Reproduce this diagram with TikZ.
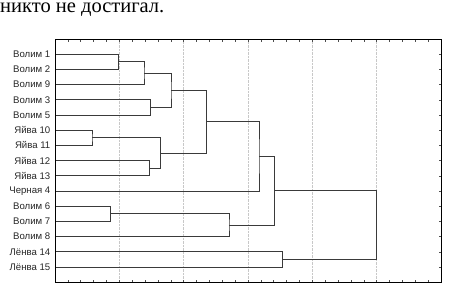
\documentclass[tikz,border=0pt]{standalone}
\usepackage{fontspec}
\setmainfont{Liberation Serif}
\newfontfamily\rotulo{Liberation Sans}
\usetikzlibrary{calc}
\definecolor{Rama}{HTML}{3A3A3A}
\definecolor{Rejilla}{HTML}{C8C8C8}

% union of two clusters at height #2
\newcommand{\fusion}[4]{%
  \coordinate (tmp) at ($(#3)!.5!(#4)$);
  \coordinate (#1) at ({#2},0 |- tmp);
  \draw[rama] (#3) -| (#1) |- (#4);}

\begin{document}
\begin{tikzpicture}[x=1pt,y=-1pt,
        rama/.style={draw=Rama,line width=.9pt},
        marco/.style={draw=black,line width=.9pt},
        rejilla/.style={draw=Rejilla,line width=.4pt,densely dotted},
        marca/.style={draw=black!70,line width=.5pt},
        hoja/.style={anchor=east,inner sep=0pt,font=\rotulo\fontsize{9.6}{10}\selectfont,text=black!85}]
        \useasboundingbox (0,0) rectangle (455,300);
        \node[anchor=base west,inner sep=0pt,font=\fontsize{20.5}{22}\selectfont] (frase) at (0,12.3) {никто не достигал.};
        \coordinate (so) at (55,39);
        \coordinate (ie) at (441,282);
        % grid and ticks
        \foreach \k in {1,...,5}
          \draw[rejilla] ({55+\k*386/6},39) -- ({55+\k*386/6},282);
        \foreach \k in {1,...,29}{
          \draw[marca] ({55+\k*386/30},39) -- ++(0,2.5);
          \draw[marca] ({55+\k*386/30},282) -- ++(0,-2.5);}
        % leaves
        \foreach \nombre [count=\i] in {Волим 1,Волим 2,Волим 9,Волим 3,Волим 5,Яйва 10,Яйва 11,Яйва 12,Яйва 13,Черная 4,Волим 6,Волим 7,Волим 8,Лёнва 14,Лёнва 15}{
          \coordinate (l\i) at (55,{54.2+15.2*(\i-1)});
          \node[hoja] (t\i) at (50.5,{54.2+15.2*(\i-1)}) {\nombre};
          \draw[marca] (441,{54.2+15.2*(\i-1)}) -- ++(-2.5,0);}
        \fusion{m12}{118.3}{l1}{l2}
        \fusion{m129}{144}{m12}{l3}
        \fusion{m35}{150.7}{l4}{l5}
        \fusion{mvol}{171}{m129}{m35}
        \fusion{m1011}{92}{l6}{l7}
        \fusion{m1213}{149.3}{l8}{l9}
        \fusion{myai}{160.7}{m1011}{m1213}
        \fusion{ma}{206.7}{mvol}{myai}
        \fusion{mche}{259}{ma}{l10}
        \fusion{m67}{110.7}{l11}{l12}
        \fusion{m678}{229}{m67}{l13}
        \fusion{mb}{274.3}{mche}{m678}
        \fusion{mlen}{282.3}{l14}{l15}
        \fusion{mtodo}{376.7}{mb}{mlen}
        \draw[marco] (so) rectangle (ie);
      \end{tikzpicture}
\end{document}
